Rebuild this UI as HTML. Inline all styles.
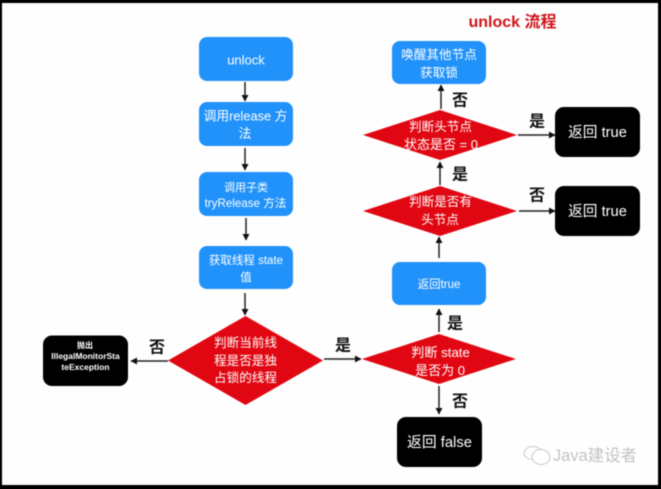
<!DOCTYPE html>
<html><head><meta charset="utf-8">
<style>
html,body{margin:0;padding:0;background:#000;width:661px;height:489px;overflow:hidden}
svg{display:block;filter:blur(0.45px)}
text{font-family:"Liberation Sans","Noto Sans CJK SC",sans-serif;text-anchor:middle}
.w{fill:#fff}
.k{fill:#111;font-size:16px;font-weight:700}
</style></head><body>
<svg width="661" height="489" viewBox="0 0 661 489" xmlns="http://www.w3.org/2000/svg">
<defs>
<marker id="a" markerWidth="7" markerHeight="7" refX="6" refY="3.5" orient="auto" markerUnits="userSpaceOnUse"><path d="M0 0L6.5 3.5L0 7z" fill="#111"/></marker>
</defs>
<rect x="2" y="3" width="656" height="482" fill="#fefefe"/>

<!-- Title -->
<text x="512.5" y="27" font-size="16" font-weight="700" fill="#d0121b">unlock 流程</text>

<!-- Blue boxes -->
<g fill="#2192fa">
<rect x="199" y="37" width="94" height="44" rx="8"/>
<rect x="199" y="102" width="94" height="44" rx="8"/>
<rect x="199" y="172" width="94" height="44" rx="8"/>
<rect x="199" y="246" width="94" height="43" rx="8"/>
<rect x="392" y="41" width="94" height="43" rx="8"/>
<rect x="392" y="262" width="94" height="43" rx="8"/>
</g>

<!-- Black boxes -->
<g fill="#000">
<rect x="43" y="335.5" width="85" height="50.5" rx="9"/>
<rect x="555" y="107" width="85" height="50" rx="9"/>
<rect x="555" y="186" width="85" height="50" rx="9"/>
<rect x="397" y="417" width="85" height="50" rx="9"/>
</g>

<!-- Diamonds -->
<g fill="#e00712">
<polygon points="168,360.5 245.5,316 323,360.5 245.5,405"/>
<polygon points="362,359 439,334 516,359 439,384"/>
<polygon points="363,135 440,110 517,135 440,160"/>
<polygon points="363,211 440,186 517,211 440,236"/>
</g>

<!-- Connectors -->
<g stroke="#222" stroke-width="1.5" fill="none">
<line x1="245" y1="82" x2="245" y2="101" marker-end="url(#a)"/>
<line x1="245" y1="148" x2="245" y2="170" marker-end="url(#a)"/>
<line x1="246" y1="218" x2="246" y2="240" marker-end="url(#a)"/>
<line x1="245" y1="293" x2="245" y2="315" marker-end="url(#a)"/>
<line x1="168" y1="361" x2="131" y2="361" marker-end="url(#a)"/>
<line x1="324" y1="359" x2="361" y2="359" marker-end="url(#a)"/>
<line x1="439" y1="332" x2="439" y2="309" marker-end="url(#a)"/>
<line x1="439" y1="386" x2="439" y2="414" marker-end="url(#a)"/>
<line x1="439" y1="258" x2="439" y2="237" marker-end="url(#a)"/>
<line x1="440" y1="185" x2="440" y2="162" marker-end="url(#a)"/>
<line x1="441" y1="109" x2="441" y2="85" marker-end="url(#a)"/>
<line x1="518" y1="135" x2="555" y2="135" marker-end="url(#a)"/>
<line x1="519" y1="211" x2="555" y2="211" marker-end="url(#a)"/>
</g>

<!-- Blue labels -->
<text x="246" y="64.5" class="w" font-size="13">unlock</text>
<text x="245.5" y="120.5" class="w" font-size="12.8">调用release 方</text>
<text x="245" y="138" class="w" font-size="12.8">法</text>
<text x="246" y="191" class="w" font-size="11">调用子类</text>
<text x="245.5" y="207" class="w" font-size="11.6">tryRelease 方法</text>
<text x="246" y="264" class="w" font-size="11.5">获取线程 state</text>
<text x="246" y="281" class="w" font-size="11.5">值</text>
<text x="439" y="59" class="w" font-size="12.6">唤醒其他节点</text>
<text x="439" y="77" class="w" font-size="12.6">获取锁</text>
<text x="439" y="288" class="w" font-size="11.5">返回true</text>

<!-- Diamond labels -->
<g font-size="12.6">
<text x="245.5" y="347" class="w">判断当前线</text>
<text x="245.5" y="365" class="w">程是否是独</text>
<text x="245.5" y="382" class="w">占锁的线程</text>
<text x="440.5" y="357" class="w" font-size="13.2">判断 state</text>
<text x="440" y="375" class="w" font-size="13">是否为 0</text>
<text x="440.5" y="131" class="w">判断头节点</text>
<text x="441" y="149" class="w" font-size="13">状态是否 = 0</text>
<text x="440.5" y="206" class="w">判断是否有</text>
<text x="440" y="224" class="w">头节点</text>
</g>

<!-- Black labels -->
<text x="85" y="348" class="w" font-size="8" font-weight="700">抛出</text>
<text x="85.5" y="359" class="w" font-size="8.5" font-weight="700">IllegalMonitorSta</text>
<text x="85.5" y="370" class="w" font-size="8.5" font-weight="700">teException</text>
<text x="597.5" y="137" class="w" font-size="14.7">返回 true</text>
<text x="597.5" y="216" class="w" font-size="14.7">返回 true</text>
<text x="439.5" y="447" class="w" font-size="14.8">返回 false</text>

<!-- Branch labels -->
<text x="157" y="352.5" class="k">否</text>
<text x="343" y="350.5" class="k">是</text>
<text x="455" y="328.5" class="k">是</text>
<text x="460" y="406.5" class="k">否</text>
<text x="460" y="105.5" class="k">否</text>
<text x="537" y="126.5" class="k">是</text>
<text x="460" y="179.5" class="k">是</text>
<text x="537" y="200.5" class="k">否</text>

<!-- Watermark -->
<g stroke="#c9c9c9" stroke-width="1" fill="#fefefe">
<ellipse cx="533" cy="453" rx="9" ry="6.5"/>
<ellipse cx="541" cy="457" rx="9" ry="7.5"/>
</g>
<text x="595" y="461" font-size="16.5" fill="#c4c4c4">Java建设者</text>
</svg>
</body></html>
